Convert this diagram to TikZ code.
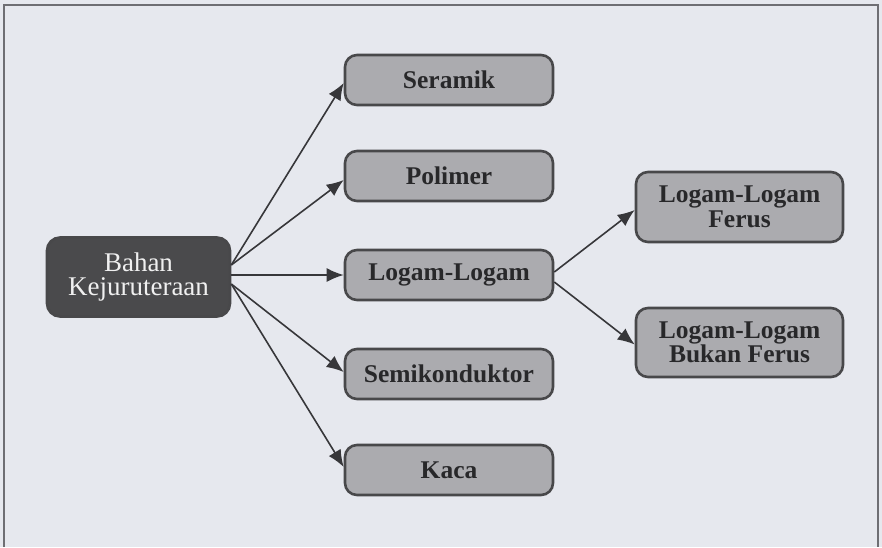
\documentclass[tikz,border=0pt]{standalone}
\usepackage{fontspec}
\setmainfont{Liberation Serif}
\usetikzlibrary{arrows.meta}
\definecolor{bgc}{RGB}{230,232,238}
\definecolor{framec}{RGB}{110,110,115}
\definecolor{boxgray}{RGB}{171,171,175}
\definecolor{boxline}{RGB}{72,72,74}
\definecolor{darkbox}{RGB}{74,74,76}
\definecolor{textdark}{RGB}{40,40,42}
\definecolor{textlight}{RGB}{240,240,240}
\definecolor{arrowc}{RGB}{55,55,58}
\begin{document}
\begin{tikzpicture}[x=1pt,y=-1pt,
  graybox/.style={draw=boxline, line width=2.6pt, rounded corners=12pt, fill=boxgray,
    minimum width=208pt, minimum height=50pt, inner sep=0pt, align=center,
    text=textdark, font=\fontsize{25.5}{24.5}\selectfont\bfseries},
  mainbox/.style={draw=boxline, line width=2.6pt, rounded corners=13pt, fill=darkbox,
    minimum width=183pt, minimum height=79pt, inner sep=0pt, align=center,
    text=textlight, font=\fontsize{27}{24.5}\selectfont},
  arr/.style={draw=arrowc, line width=1.6pt, -{Latex[length=17pt,width=14pt]}}
]
\useasboundingbox (0,0) rectangle (882,547);
\fill[bgc] (0,0) rectangle (882,547);
\draw[framec, line width=1.8pt] (4,547) -- (4,5) -- (878,5) -- (878,547);

\node[mainbox] (bahan) at (138.5,277) {Bahan\\Kejuruteraan};
\node[graybox] (seramik) at (449,80) {Seramik};
\node[graybox] (polimer) at (449,176) {Polimer};
\node[graybox] (logam) at (449,275) {Logam-Logam};
\node[graybox] (semi) at (449,374) {Semikonduktor};
\node[graybox] (kaca) at (449,470) {Kaca};
\node[graybox, minimum height=70pt, minimum width=207pt] (ferus) at (739.5,207) {Logam-Logam\\Ferus};
\node[graybox, minimum height=69pt, minimum width=207pt] (bukan) at (739.5,342.5) {Logam-Logam\\Bukan Ferus};

\coordinate (up) at ([yshift=12pt]bahan.east);
\coordinate (dn) at ([yshift=-7pt]bahan.east);
\coordinate (lup) at ([yshift=3pt]logam.east);
\coordinate (ldn) at ([yshift=-7pt]logam.east);

\draw[arr] (up) -- ([yshift=-3pt]seramik.west);
\draw[arr] (up) -- ([yshift=-4pt]polimer.west);
\draw[arr] (bahan.east |- logam.west) -- (logam.west);
\draw[arr] (dn) -- ([yshift=2pt]semi.west);
\draw[arr] (dn) -- ([yshift=3pt]kaca.west);
\draw[arr] (lup) -- ([yshift=-3pt]ferus.west);
\draw[arr] (ldn) -- ([yshift=-2pt]bukan.west);
\end{tikzpicture}
\end{document}
